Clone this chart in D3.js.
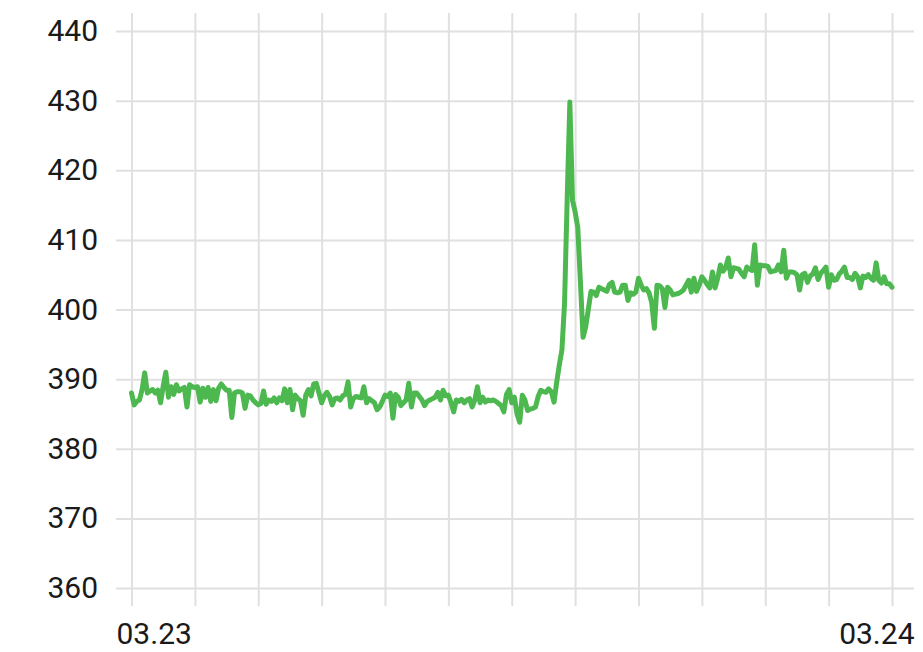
<!DOCTYPE html>
<html>
<head>
<meta charset="utf-8">
<script src="https://cdn.jsdelivr.net/npm/d3@7"></script>
<style>
  html, body { margin: 0; padding: 0; background: #fff; }
  svg { display: block; }
</style>
</head>
<body>
<div id="chart"><svg width="923" height="652"></svg></div>
<script>
// one reading every 5 minutes, 03.23 00:00 -> 03.24 00:00 (one row per hour)
const START = new Date(2024, 2, 23, 0, 0);
const END = new Date(2024, 2, 24, 0, 0);
const STEP_MIN = 5;

const values = [
  388.0, 386.3, 386.8, 387.0, 388.5, 390.9, 388.0, 388.3, 388.5, 388.0, 388.4, 386.6,
  389.0, 391.0, 387.4, 388.9, 387.8, 389.2, 388.3, 388.6, 388.8, 386.0, 389.2, 388.9,
  388.8, 388.9, 386.7, 388.7, 387.4, 388.8, 386.8, 388.5, 386.9, 388.7, 389.3, 388.8,
  388.4, 388.4, 384.5, 388.0, 388.2, 388.2, 388.0, 385.8, 387.7, 387.6, 387.0, 386.6,
  386.3, 386.5, 388.3, 386.4, 387.0, 386.8, 387.3, 386.6, 387.3, 386.9, 388.6, 386.6,
  388.5, 385.6, 387.7, 387.2, 386.9, 384.8, 387.7, 388.5, 387.6, 389.3, 389.4, 388.0,
  386.6, 387.6, 388.1, 387.5, 386.3, 387.2, 387.3, 387.0, 387.6, 387.8, 389.6, 386.0,
  387.2, 387.5, 387.4, 387.3, 388.9, 386.6, 387.2, 386.9, 386.6, 385.6, 386.0, 386.8,
  387.7, 387.5, 388.0, 384.4, 387.8, 387.4, 386.2, 386.6, 387.0, 389.4, 386.0, 388.0,
  388.0, 387.5, 387.0, 386.2, 386.8, 387.0, 387.2, 387.4, 388.1, 387.0, 388.4, 387.6,
  387.7, 386.6, 385.3, 387.0, 386.8, 387.1, 386.6, 387.0, 387.2, 386.0, 387.0, 388.9,
  386.6, 387.4, 386.7, 387.0, 386.9, 387.0, 386.8, 386.5, 386.2, 385.3, 387.8, 388.5,
  386.6, 387.4, 385.0, 383.8, 387.7, 387.0, 385.5, 385.7, 385.8, 386.0, 387.5, 388.4,
  388.2, 388.1, 388.6, 388.2, 386.7, 389.5, 392.0, 394.2, 401.0, 416.0, 429.8, 415.7,
  414.0, 411.8, 404.0, 396.0, 397.5, 400.0, 402.6, 402.5, 402.0, 403.2, 403.0, 402.8,
  402.6, 403.6, 403.9, 402.5, 402.4, 402.5, 403.5, 403.5, 401.3, 402.4, 402.2, 402.5,
  404.5, 403.5, 402.8, 403.0, 402.4, 401.0, 397.3, 403.5, 403.4, 403.0, 400.3, 403.2,
  402.8, 402.1, 402.2, 402.3, 402.5, 402.8, 403.5, 404.2, 402.5, 404.5, 402.6, 403.5,
  404.7, 404.2, 403.6, 403.1, 405.4, 403.1, 404.5, 406.4, 405.5, 406.0, 407.4, 404.7,
  406.0, 405.9, 405.8, 405.2, 404.7, 406.1, 405.8, 405.6, 409.3, 403.5, 406.4, 406.3,
  406.3, 406.2, 405.4, 405.5, 405.6, 406.4, 405.4, 408.5, 404.5, 405.4, 405.4, 405.3,
  405.0, 402.8, 405.0, 405.2, 403.9, 404.8, 405.1, 406.0, 404.3, 405.2, 405.6, 406.1,
  403.2, 405.0, 404.2, 404.3, 405.1, 405.5, 406.1, 404.6, 404.6, 404.3, 405.2, 404.7,
  403.1, 404.8, 404.6, 405.0, 404.5, 404.2, 406.7, 404.2, 403.8, 404.7, 403.7, 403.7,
  403.2
];

const yTicks = [360, 370, 380, 390, 400, 410, 420, 430, 440];
const xLabelDates = [START, END];

const data = values.map((v, i) => ({
  time: new Date(START.getTime() + i * STEP_MIN * 60000),
  value: v
}));

const SVG = d3.select('#chart svg');
const GRID_LEFT = 116;
const GRID_RIGHT = 914;
const GRID_TOP = 13;
const GRID_BOTTOM = 606;
const GRID_COLOR = '#e0e0e0';
const FONT = "Roboto, 'Noto Sans', sans-serif";

const X_SCALE = d3.scaleTime()
  .domain([START, END])
  .range([131.5, 892]);

const Y_SCALE = d3.scaleLinear()
  .domain([360, 440])
  .range([588, 31]);

// horizontal grid + y labels
const Y_AXIS = d3.axisLeft(Y_SCALE)
  .tickValues(yTicks)
  .tickSize(-(GRID_RIGHT - GRID_LEFT))
  .tickPadding(18)
  .tickFormat(d3.format('d'));
const Y_AXIS_G = SVG.append('g')
  .attr('id', 'yAxis')
  .attr('transform', `translate(${GRID_LEFT},0)`);
Y_AXIS(Y_AXIS_G);

// vertical grid every 2 hours + date labels
const fmt = d3.timeFormat('%m.%d');
const X_AXIS = d3.axisBottom(X_SCALE)
  .ticks(d3.timeHour.every(2))
  .tickSize(-(GRID_BOTTOM - GRID_TOP))
  .tickPadding(17)
  .tickFormat(d => xLabelDates.some(t => +t === +d) ? fmt(d) : '');
const X_AXIS_G = SVG.append('g')
  .attr('id', 'xAxis')
  .attr('transform', `translate(0,${GRID_BOTTOM})`);
X_AXIS(X_AXIS_G);

SVG.selectAll('.domain').remove();
SVG.selectAll('.tick line')
  .attr('stroke', GRID_COLOR)
  .attr('stroke-width', 2);
SVG.selectAll('.tick text')
  .attr('fill', '#1a1a1a')
  .style('font-family', FONT)
  .style('font-size', '30px');

// keep first / last date label inside the grid
X_AXIS_G.selectAll('.tick text')
  .filter(d => +d === +START)
  .attr('text-anchor', 'start')
  .attr('x', GRID_LEFT - X_SCALE(START));
X_AXIS_G.selectAll('.tick text')
  .filter(d => +d === +END)
  .attr('text-anchor', 'end')
  .attr('x', GRID_RIGHT - X_SCALE(END));

SVG.append('path')
  .datum(data)
  .attr('d', d3.line()
    .x(d => X_SCALE(d.time))
    .y(d => Y_SCALE(d.value)))
  .style('fill', 'none')
  .style('stroke', '#4cb84f')
  .style('stroke-width', 5)
  .style('stroke-linejoin', 'round')
  .style('stroke-linecap', 'round');
</script>
</body>
</html>
